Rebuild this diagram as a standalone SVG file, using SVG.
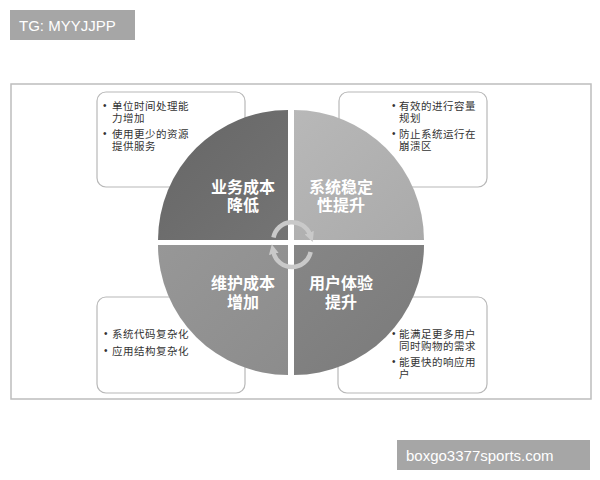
<svg xmlns="http://www.w3.org/2000/svg" width="600" height="480" viewBox="0 0 600 480">
<defs>
<style>
.wm{fill:#a6a6a6}
.wmt{fill:#ffffff;font-family:"Liberation Sans",Arial,sans-serif;font-size:15px}
.box{fill:#ffffff;stroke:#b8b8b8;stroke-width:1.2}
.bt{fill:#333333;font-family:"Noto Sans CJK SC",sans-serif;font-size:10.5px;letter-spacing:0.5px}
.bu{fill:#333333;font-family:"Liberation Sans",Arial,sans-serif;font-size:10px}
.qt{fill:#ffffff;font-family:"Noto Sans CJK SC",sans-serif;font-size:16px;font-weight:bold;text-anchor:middle}
.arc{fill:none;stroke:#c9c9c9;stroke-width:4.5}
</style>
<linearGradient id="gTL" x1="0" y1="0" x2="1" y2="1"><stop offset="0" stop-color="#666666"/><stop offset="1" stop-color="#747474"/></linearGradient>
<linearGradient id="gTR" x1="0" y1="0" x2="1" y2="1"><stop offset="0" stop-color="#b8b8b8"/><stop offset="1" stop-color="#aaaaaa"/></linearGradient>
<linearGradient id="gBL" x1="0" y1="0" x2="1" y2="1"><stop offset="0" stop-color="#979797"/><stop offset="1" stop-color="#8c8c8c"/></linearGradient>
<linearGradient id="gBR" x1="0" y1="0" x2="1" y2="1"><stop offset="0" stop-color="#868686"/><stop offset="1" stop-color="#7a7a7a"/></linearGradient>
<marker id="ah" viewBox="0 0 10 10" refX="2" refY="5" markerWidth="2.2" markerHeight="2.2" orient="auto"><path d="M0,0 L10,5 L0,10 Z" fill="#c9c9c9"/></marker>
</defs>
<rect width="600" height="480" fill="#ffffff"/>
<g id="watermark-top"><rect class="wm" x="10" y="10" width="125" height="30"/><text class="wmt" x="19" y="31">TG: MYYJJPP</text></g>
<rect id="frame" x="11" y="84" width="580" height="315" fill="#ffffff" stroke="#bdbdbd" stroke-width="1.5"/>
<g id="box-tl"><rect class="box" x="97" y="92" width="148" height="95" rx="9"/>
<text class="bu" x="103" y="109">•</text><text class="bu" x="103" y="137">•</text>
<text class="bt"><tspan x="112" y="110">单位时间处理能</tspan><tspan x="112" y="122">力增加</tspan><tspan x="112" y="138">使用更少的资源</tspan><tspan x="112" y="150">提供服务</tspan></text></g>
<g id="box-tr"><rect class="box" x="339" y="92" width="148" height="95" rx="9"/>
<text class="bu" x="392" y="109">•</text><text class="bu" x="392" y="137">•</text>
<text class="bt"><tspan x="399" y="110">有效的进行容量</tspan><tspan x="399" y="122">规划</tspan><tspan x="399" y="138">防止系统运行在</tspan><tspan x="399" y="150">崩溃区</tspan></text></g>
<g id="box-bl"><rect class="box" x="97" y="297" width="148" height="96" rx="9"/>
<text class="bu" x="104" y="337">•</text><text class="bu" x="104" y="354">•</text>
<text class="bt"><tspan x="112" y="338">系统代码复杂化</tspan><tspan x="112" y="355">应用结构复杂化</tspan></text></g>
<g id="box-br"><rect class="box" x="338" y="297" width="149" height="96" rx="9"/>
<text class="bu" x="392" y="337">•</text><text class="bu" x="392" y="365">•</text>
<text class="bt"><tspan x="399" y="338">能满足更多用户</tspan><tspan x="399" y="350">同时购物的需求</tspan><tspan x="399" y="366">能更快的响应用</tspan><tspan x="399" y="378">户</tspan></text></g>
<g id="q-tl"><path d="M288,240 H158 A130,130 0 0 1 288,110 Z" fill="url(#gTL)"/><text class="qt"><tspan x="243" y="193">业务成本</tspan><tspan x="243" y="211">降低</tspan></text></g>
<g id="q-tr"><path d="M294,240 V110 A130,130 0 0 1 424,240 Z" fill="url(#gTR)"/><text class="qt"><tspan x="341" y="193">系统稳定</tspan><tspan x="341" y="211">性提升</tspan></text></g>
<g id="q-bl"><path d="M288,245 V375 A130,130 0 0 1 158,245 Z" fill="url(#gBL)"/><text class="qt"><tspan x="243" y="289">维护成本</tspan><tspan x="243" y="308">增加</tspan></text></g>
<g id="q-br"><path d="M294,245 H424 A130,130 0 0 1 294,375 Z" fill="url(#gBR)"/><text class="qt"><tspan x="341" y="289">用户体验</tspan><tspan x="341" y="308">提升</tspan></text></g>
<g id="connectors">
<path class="arc" d="M273.5,237.5 A19,19 0 0 1 309.9,234.5" marker-end="url(#ah)"/>
<path class="arc" d="M310.6,252 A19,19 0 0 1 273.4,252" marker-end="url(#ah)"/>
</g>
<g id="watermark-bottom"><rect class="wm" x="397" y="440" width="193" height="30"/><text class="wmt" x="406" y="461">boxgo3377sports.com</text></g>
</svg>
